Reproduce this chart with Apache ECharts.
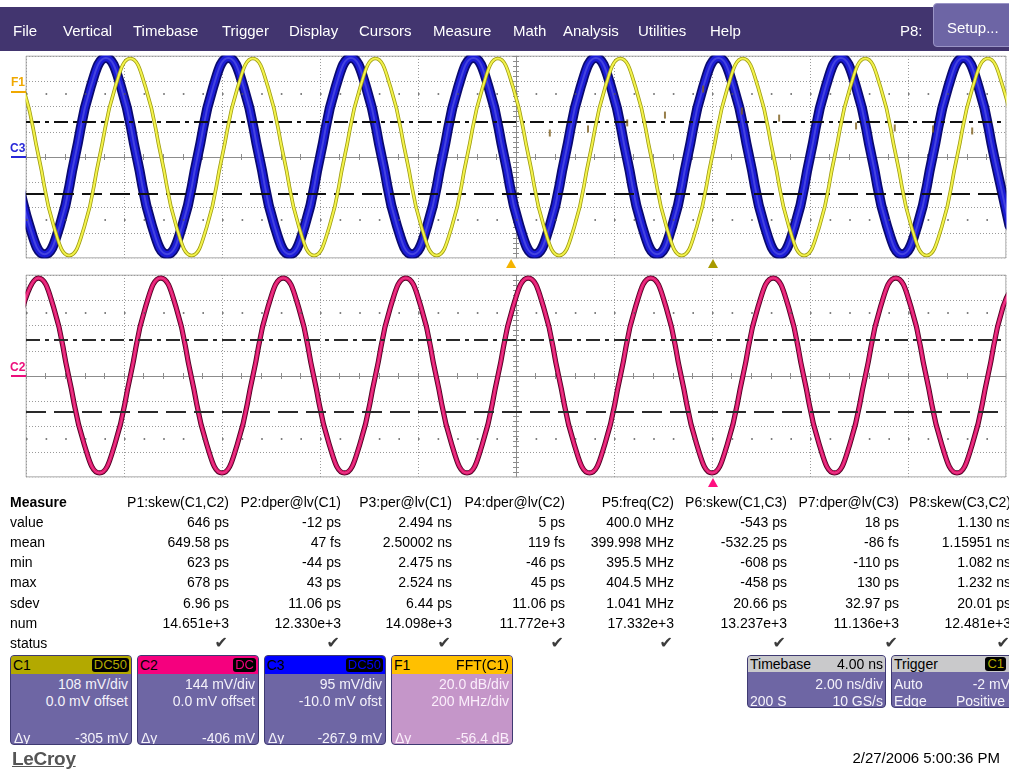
<!DOCTYPE html>
<html>
<head>
<meta charset="utf-8">
<script src="https://cdn.jsdelivr.net/npm/echarts@6/dist/echarts.min.js"></script>
<style>
html,body{margin:0;padding:0;background:#fff;overflow:hidden;width:1009px;height:769px;}
body{position:relative;font-family:"Liberation Sans",Arial,sans-serif;}
#chart{position:absolute;left:0;top:0;width:1009px;height:769px;}
.abs{position:absolute;white-space:nowrap;}
#menubar{position:absolute;left:0;top:7px;width:1009px;height:44px;background:#42356f;}
.menu{position:absolute;top:0;line-height:47px;color:#fff;font-size:15px;}
#setup{position:absolute;left:933px;top:3px;width:84px;height:44px;background:#6d65a5;border:1px solid #9a94c6;border-radius:4px;box-sizing:border-box;color:#fff;font-size:15px;line-height:48px;padding-left:13px;}
.cell{position:absolute;font-size:14px;line-height:16px;color:#000;white-space:nowrap;}
.chk{position:absolute;font-family:"DejaVu Sans",sans-serif;font-size:16px;line-height:16px;color:#3c3c3c;white-space:nowrap;}
.chbox{position:absolute;top:655px;height:90px;border-radius:4px;background:#6e66a4;border:1px solid #3f3a72;box-sizing:border-box;overflow:hidden;font-size:14px;}
.chhead{position:absolute;left:0;top:0;right:0;height:18px;line-height:18px;padding-left:2px;color:#000;}
.badge{position:absolute;right:2px;top:2px;height:14px;line-height:14px;background:#000;border-radius:3px;padding:0 2px;font-size:13px;}
.ln{position:absolute;left:3px;right:3px;height:16px;line-height:16px;color:#f4f2fa;}
.r{position:absolute;right:0;top:0;}
.l{position:absolute;left:0;top:0;}
.tag{position:absolute;font-size:12px;font-weight:bold;line-height:12px;}
.bar{position:absolute;height:2px;}
</style>
</head>
<body>
<div id="chart"></div>
<div id="chrome"></div>
<script>
// ---------- waveform data: time in ns from screen centre, level in divisions ----------
// C1 (yellow, upper pane)
const c1Trace = [
  [-10.37,3.9],[-10.06,2.76],[-9.74,0],[-9.43,-2.76],
  [-9.12,-3.9],[-8.81,-2.76],[-8.50,0],[-8.18,2.76],[-7.87,3.9],[-7.56,2.76],[-7.24,0],[-6.93,-2.76],
  [-6.62,-3.9],[-6.31,-2.76],[-6.00,0],[-5.68,2.76],[-5.37,3.9],[-5.06,2.76],[-4.74,0],[-4.43,-2.76],
  [-4.12,-3.9],[-3.81,-2.76],[-3.50,0],[-3.18,2.76],[-2.87,3.9],[-2.56,2.76],[-2.24,0],[-1.93,-2.76],
  [-1.62,-3.9],[-1.31,-2.76],[-1.00,0],[-0.68,2.76],[-0.37,3.9],[-0.06,2.76],[0.26,0],[0.57,-2.76],
  [0.88,-3.9],[1.19,-2.76],[1.50,0],[1.82,2.76],[2.13,3.9],[2.44,2.76],[2.76,0],[3.07,-2.76],
  [3.38,-3.9],[3.69,-2.76],[4.00,0],[4.32,2.76],[4.63,3.9],[4.94,2.76],[5.26,0],[5.57,-2.76],
  [5.88,-3.9],[6.19,-2.76],[6.50,0],[6.82,2.76],[7.13,3.9],[7.44,2.76],[7.76,0],[8.07,-2.76],
  [8.38,-3.9],[8.69,-2.76],[9.00,0],[9.32,2.76],[9.63,3.9],[9.94,2.76],[10.26,0]
];
// C3 (blue, upper pane)
const c3Trace = [
  [-10.24,0],[-9.93,-2.72],
  [-9.62,-3.85],[-9.31,-2.72],[-9.00,0],[-8.68,2.77],[-8.37,3.92],[-8.06,2.77],[-7.74,0],[-7.43,-2.72],
  [-7.12,-3.85],[-6.81,-2.72],[-6.50,0],[-6.18,2.77],[-5.87,3.92],[-5.56,2.77],[-5.24,0],[-4.93,-2.72],
  [-4.62,-3.85],[-4.31,-2.72],[-4.00,0],[-3.68,2.77],[-3.37,3.92],[-3.06,2.77],[-2.74,0],[-2.43,-2.72],
  [-2.12,-3.85],[-1.81,-2.72],[-1.50,0],[-1.18,2.77],[-0.87,3.92],[-0.56,2.77],[-0.24,0],[0.07,-2.72],
  [0.38,-3.85],[0.69,-2.72],[1.00,0],[1.32,2.77],[1.63,3.92],[1.94,2.77],[2.26,0],[2.57,-2.72],
  [2.88,-3.85],[3.19,-2.72],[3.50,0],[3.82,2.77],[4.13,3.92],[4.44,2.77],[4.76,0],[5.07,-2.72],
  [5.38,-3.85],[5.69,-2.72],[6.00,0],[6.32,2.77],[6.63,3.92],[6.94,2.77],[7.26,0],[7.57,-2.72],
  [7.88,-3.85],[8.19,-2.72],[8.50,0],[8.82,2.77],[9.13,3.92],[9.44,2.77],[9.76,0],[10.07,-2.72]
];
// C2 (magenta, lower pane)
const c2Trace = [
  [-10.06,2.74],[-9.75,3.88],[-9.44,2.74],[-9.13,0],[-8.81,-2.72],[-8.50,-3.84],[-8.19,-2.72],[-7.87,0],[-7.56,2.74],
  [-7.25,3.88],[-6.94,2.74],[-6.63,0],[-6.31,-2.72],[-6.00,-3.84],[-5.69,-2.72],[-5.37,0],[-5.06,2.74],
  [-4.75,3.88],[-4.44,2.74],[-4.13,0],[-3.81,-2.72],[-3.50,-3.84],[-3.19,-2.72],[-2.87,0],[-2.56,2.74],
  [-2.25,3.88],[-1.94,2.74],[-1.63,0],[-1.31,-2.72],[-1.00,-3.84],[-0.69,-2.72],[-0.37,0],[-0.06,2.74],
  [0.25,3.88],[0.56,2.74],[0.87,0],[1.19,-2.72],[1.50,-3.84],[1.81,-2.72],[2.13,0],[2.44,2.74],
  [2.75,3.88],[3.06,2.74],[3.37,0],[3.69,-2.72],[4.00,-3.84],[4.31,-2.72],[4.63,0],[4.94,2.74],
  [5.25,3.88],[5.56,2.74],[5.87,0],[6.19,-2.72],[6.50,-3.84],[6.81,-2.72],[7.13,0],[7.44,2.74],
  [7.75,3.88],[8.06,2.74],[8.37,0],[8.69,-2.72],[9.00,-3.84],[9.31,-2.72],[9.63,0],[9.94,2.74],
  [10.25,3.88]
];
// persistence glitches left on the upper pane
const glitchMarks = [
  [0.69,0.95],[1.47,1.11],[2.27,1.35],[3.04,1.66],[3.82,2.69],[4.61,1.82],
  [5.37,1.54],[6.94,1.23],[7.73,1.15],[8.51,1.11],[9.31,1.03]
];
// horizontal cursor levels (divisions): [dash-dot, dashed]
const upperCursors = [1.39, -1.45];
const lowerCursors = [1.43, -1.43];
// marker times below each pane (ns)
const triggerMarkTime = -0.1;
const cursorMarkTime = 4.02;

// ---------- screen chrome text ----------
const menuItems = ['File','Vertical','Timebase','Trigger','Display','Cursors','Measure','Math','Analysis','Utilities','Help'];
const menuX = [13,63,133,222,289,359,433,513,563,638,710];

const measureLabels = ['value','mean','min','max','sdev','num','status'];
const paramNames = ['P1:skew(C1,C2)','P2:dper@lv(C1)','P3:per@lv(C1)','P4:dper@lv(C2)','P5:freq(C2)','P6:skew(C1,C3)','P7:dper@lv(C3)','P8:skew(C3,C2)'];
const valueRow = ['646 ps','-12 ps','2.494 ns','5 ps','400.0 MHz','-543 ps','18 ps','1.130 ns'];
const meanRow  = ['649.58 ps','47 fs','2.50002 ns','119 fs','399.998 MHz','-532.25 ps','-86 fs','1.15951 ns'];
const minRow   = ['623 ps','-44 ps','2.475 ns','-46 ps','395.5 MHz','-608 ps','-110 ps','1.082 ns'];
const maxRow   = ['678 ps','43 ps','2.524 ns','45 ps','404.5 MHz','-458 ps','130 ps','1.232 ns'];
const sdevRow  = ['6.96 ps','11.06 ps','6.44 ps','11.06 ps','1.041 MHz','20.66 ps','32.97 ps','20.01 ps'];
const numRow   = ['14.651e+3','12.330e+3','14.098e+3','11.772e+3','17.332e+3','13.237e+3','11.136e+3','12.481e+3'];
const statusRow = ['\u2714','\u2714','\u2714','\u2714','\u2714','\u2714','\u2714','\u2714'];

const channelNames    = ['C1','C2','C3','F1'];
const channelTags     = ['DC50','DC','DC50','FFT(C1)'];
const channelLine1    = ['108 mV/div','144 mV/div','95 mV/div','20.0 dB/div'];
const channelLine2    = ['0.0 mV offset','0.0 mV offset','-10.0 mV ofst','200 MHz/div'];
const channelDeltaY   = ['-305 mV','-406 mV','-267.9 mV','-56.4 dB'];
const channelColors   = ['#b3a900','#f5007e','#0000ff','#ffc000'];

const timebaseText = ['Timebase','4.00 ns','2.00 ns/div','200 S','10 GS/s'];
const triggerText  = ['Trigger','C1','Auto','-2 mV','Edge','Positive'];
const stampText = '2/27/2006 5:00:36 PM';

// ---------- build chrome ----------
const chrome = document.getElementById('chrome');
function add(html){ chrome.insertAdjacentHTML('beforeend', html); }

let mb = '<div id="menubar">';
menuItems.forEach((m,i)=>{ mb += `<div class="menu" style="left:${menuX[i]}px">${m}</div>`; });
mb += '<div class="menu" style="left:900px">P8:</div></div>';
add(mb);
add('<div id="setup">Setup...</div>');

// measurement table
const colRight = [229,341,452,565,674,787,899,1011];
const rowCenters = [502,522,542,562,582,603,623,643];
add(`<div class="cell" style="left:10px;top:${rowCenters[0]-8}px;font-weight:bold">Measure</div>`);
paramNames.forEach((p,i)=>{
  add(`<div class="cell" style="right:${1009-colRight[i]}px;top:${rowCenters[0]-8}px">${p}</div>`);
});
const rows = [valueRow,meanRow,minRow,maxRow,sdevRow,numRow,statusRow];
measureLabels.forEach((lab,r)=>{
  const y = rowCenters[r+1]-8;
  add(`<div class="cell" style="left:10px;top:${y}px">${lab}</div>`);
  rows[r].forEach((v,i)=>{
    const cls = r===6 ? 'chk' : 'cell';
    add(`<div class="${cls}" style="right:${1009-colRight[i]+(r===6?1:0)}px;top:${y}px">${v}</div>`);
  });
});

// channel descriptor boxes
const boxLeft = [10,137,264,391];
channelNames.forEach((n,i)=>{
  const isMath = i===3;
  const body = isMath ? '#c596c9' : '#6e66a4';
  const txt = isMath ? '#fbeefb' : '#f4f2fa';
  const tag = isMath
    ? `<span class="r" style="right:3px">${channelTags[i]}</span>`
    : `<span class="badge" style="color:${channelColors[i]}">${channelTags[i]}</span>`;
  add(`<div class="chbox" style="left:${boxLeft[i]}px;width:122px;background:${body}">
    <div class="chhead" style="background:${channelColors[i]}">${n}${tag}</div>
    <div class="ln" style="top:20px;color:${txt}"><span class="r">${channelLine1[i]}</span></div>
    <div class="ln" style="top:37px;color:${txt}"><span class="r">${channelLine2[i]}</span></div>
    <div class="ln" style="top:74px;color:${txt}"><span class="l">\u0394y</span><span class="r">${channelDeltaY[i]}</span></div>
  </div>`);
});

// timebase and trigger boxes
add(`<div class="chbox" style="left:747px;width:139px;height:53px">
  <div class="chhead" style="background:#c9c9cb;height:16px;line-height:16px">${timebaseText[0]}<span class="r" style="right:2px">${timebaseText[1]}</span></div>
  <div class="ln" style="top:20px;left:2px;right:2px"><span class="r">${timebaseText[2]}</span></div>
  <div class="ln" style="top:37px;left:2px;right:2px"><span class="l">${timebaseText[3]}</span><span class="r">${timebaseText[4]}</span></div>
</div>`);
add(`<div class="chbox" style="left:891px;width:124px;height:53px">
  <div class="chhead" style="background:#c9c9cb;height:16px;line-height:16px">${triggerText[0]}<span class="badge" style="top:1px;right:8px;color:${channelColors[0]}">${triggerText[1]}</span></div>
  <div class="ln" style="top:20px;left:2px;right:4px"><span class="l">${triggerText[2]}</span><span class="r">${triggerText[3]}</span></div>
  <div class="ln" style="top:37px;left:2px;right:9px"><span class="l">${triggerText[4]}</span><span class="r">${triggerText[5]}</span></div>
</div>`);

add('<div class="abs" style="left:12px;top:748px;font-size:19px;font-weight:bold;color:#555;text-decoration:underline;letter-spacing:-0.3px">LeCroy</div>');
add(`<div class="abs" style="right:9px;top:749px;font-size:15px;color:#000">${stampText}</div>`);

// trace tags at the left edge of each pane
add('<div class="tag" style="left:11px;top:76px;color:#f0a800">F1</div>');
add('<div class="bar" style="left:11px;top:91px;width:15px;background:#f0a800"></div>');
add('<div class="tag" style="left:10px;top:142px;color:#2727d8">C3</div>');
add('<div class="bar" style="left:11px;top:156px;width:15px;background:#2727d8"></div>');
add('<div class="tag" style="left:10px;top:361px;color:#ec0f7c">C2</div>');
add('<div class="bar" style="left:11px;top:375px;width:15px;background:#ec0f7c"></div>');

// ---------- plots ----------
const chart = echarts.init(document.getElementById('chart'), null, {renderer:'canvas'});
const GRID_COLOR = '#8c8c8c';
const panes = [
  {left:26, top:56, width:980, height:202},
  {left:26, top:275, width:980, height:202}
];

function xAxisPair(gi){
  const base = {
    gridIndex: gi, type:'value', min:-10, max:10, interval:2,
    axisLabel:{show:false},
    axisLine:{onZero:true, lineStyle:{color:GRID_COLOR, width:1}},
    axisTick:{show:true, length:3, lineStyle:{color:GRID_COLOR}},
    minorTick:{show:true, splitNumber:5, length:3, lineStyle:{color:GRID_COLOR}}
  };
  return [
    Object.assign({}, base, {position:'bottom',
      splitLine:{show:true, lineStyle:{color:'#9a9a9a', type:[1,2], width:1}}}),
    Object.assign({}, base, {position:'top', splitLine:{show:false}})
  ];
}
function yAxisPair(gi){
  const base = {
    gridIndex: gi, type:'value', min:-4, max:4, interval:1,
    axisLabel:{show:false},
    axisLine:{onZero:true, lineStyle:{color:GRID_COLOR, width:1}},
    axisTick:{show:true, length:3, lineStyle:{color:GRID_COLOR}},
    minorTick:{show:true, splitNumber:5, length:3, lineStyle:{color:GRID_COLOR}}
  };
  return [
    Object.assign({}, base, {position:'left',
      splitLine:{show:true, lineStyle:{color:'#9a9a9a', type:[1,2], width:1}}}),
    Object.assign({}, base, {position:'right', splitLine:{show:false}})
  ];
}

function decorations(gi, cursors, cursorColor){
  return {
    type:'line', xAxisIndex:gi*2, yAxisIndex:gi*2, data:[], z:1, silent:true,
    markLine:{
      silent:true, symbol:['none','none'], label:{show:false}, animation:false,
      data:[
        {yAxis:2.5, lineStyle:{color:'#555', width:1.6, type:[1.6,18], dashOffset:-19.6}},
        {yAxis:-2.5, lineStyle:{color:'#555', width:1.6, type:[1.6,18], dashOffset:-19.6}},
        {yAxis:cursors[0], lineStyle:{color:cursorColor, width:2, type:[14,5,4,5]}},
        {yAxis:cursors[1], lineStyle:{color:cursorColor, width:2, type:[20,8]}}
      ]
    }
  };
}

function trace(data, gi, color, width, z, opacity){
  return {
    type:'line', xAxisIndex:gi*2, yAxisIndex:gi*2, data:data, smooth:0.5,
    showSymbol:false, silent:true, z:z, clip:true,
    lineStyle:{color:color, width:width, opacity:opacity==null?1:opacity, cap:'round', join:'round'}
  };
}

const option = {
  animation:false,
  backgroundColor:'transparent',
  grid: panes.map(p=>Object.assign({show:true, borderColor:GRID_COLOR, borderWidth:1, backgroundColor:'#fff', containLabel:false}, p)),
  xAxis: [].concat(xAxisPair(0), xAxisPair(1)),
  yAxis: [].concat(yAxisPair(0), yAxisPair(1)),
  series: [
    decorations(0, upperCursors, '#111'),
    decorations(1, lowerCursors, '#2a2a2a'),
    // C3 band: dark edge, saturated body, faint bright core
    trace(c3Trace, 0, '#0a0a70', 10, 2),
    trace(c3Trace, 0, '#1c1cd6', 6.6, 3),
    trace(c3Trace, 0, '#8c8cf2', 2, 4, 0.35),
    // C1
    trace(c1Trace, 0, '#9f9c12', 3.6, 5),
    trace(c1Trace, 0, '#f3f34c', 2, 6),
    {
      type:'scatter', xAxisIndex:0, yAxisIndex:0, data:glitchMarks, z:7, silent:true,
      symbol:'rect', symbolSize:[2,7], itemStyle:{color:'#7d5e1c'}
    },
    // C2
    trace(c2Trace, 1, '#4e0626', 5.2, 2),
    trace(c2Trace, 1, '#e3176f', 3.4, 3),
    trace(c2Trace, 1, '#ff9ccb', 1, 4, 0.35)
  ]
};
chart.setOption(option);

// white surround so the wide traces stop exactly at each pane's frame
const W = 1009, H = 769;
const masks = [
  [0, 0, W, 55.5],
  [0, 258.5, W, 16],
  [0, 477.5, W, 20],
  [0, 0, 25.5, 497],
  [1006.5, 0, 3, 497]
].map(m=>({type:'rect', z:50, silent:true, shape:{x:m[0], y:m[1], width:m[2], height:m[3]}, style:{fill:'#fff'}}));

// markers under the panes, placed from their time values
const xTrig = chart.convertToPixel({xAxisIndex:0}, triggerMarkTime);
const xCur = chart.convertToPixel({xAxisIndex:0}, cursorMarkTime);
function tri(x, yTop, color){
  return {type:'polygon', z:60, shape:{points:[[x,yTop],[x-5,yTop+9],[x+5,yTop+9]]}, style:{fill:color}, silent:true};
}
chart.setOption({graphic: masks.concat([
  tri(xTrig, 259, '#f5b400'),
  tri(xCur, 259, '#a89a00'),
  tri(xCur, 478, '#ff1080')
])});
</script>
</body>
</html>
